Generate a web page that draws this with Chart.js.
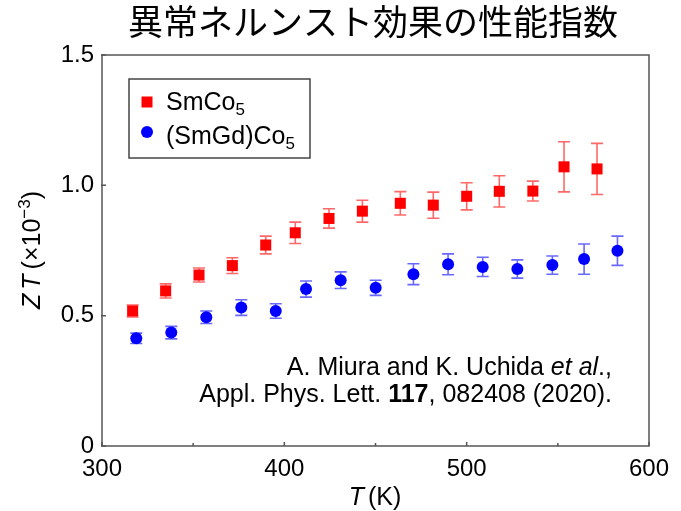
<!DOCTYPE html>
<html>
<head>
<meta charset="utf-8">
<script src="https://cdn.jsdelivr.net/npm/chart.js@4.4.0/dist/chart.umd.min.js"></script>
<style>
    html, body { margin: 0; padding: 0; background: #fff; }
    #wrap { width: 681px; height: 511px; }
</style>
</head>
<body>
<div id="wrap"><canvas id="chart" width="681" height="511"></canvas></div>
<script>
// SmCo5
const smcoTemp = [316.8, 334.9, 353.2, 371.5, 389.8, 406.0, 424.5, 442.8, 463.6, 481.7, 500.0, 517.9, 536.3, 553.4, 571.5];
const smcoZT   = [0.518, 0.595, 0.656, 0.692, 0.771, 0.818, 0.873, 0.901, 0.931, 0.924, 0.958, 0.977, 0.978, 1.071, 1.063];
const smcoErr  = [0.023, 0.027, 0.027, 0.030, 0.034, 0.041, 0.037, 0.042, 0.045, 0.050, 0.052, 0.060, 0.038, 0.096, 0.098];

// (SmGd)Co5
const smgdTemp = [318.8, 338.0, 357.2, 376.4, 395.3, 411.9, 430.9, 450.1, 470.8, 489.8, 508.8, 527.8, 547.0, 564.4, 582.7];
const smgdZT   = [0.413, 0.435, 0.494, 0.531, 0.518, 0.602, 0.636, 0.607, 0.659, 0.697, 0.687, 0.679, 0.694, 0.717, 0.749];
const smgdErr  = [0.020, 0.024, 0.024, 0.030, 0.028, 0.031, 0.032, 0.029, 0.040, 0.040, 0.037, 0.035, 0.035, 0.058, 0.056];

const xTicks = [300, 400, 500, 600];
const xMinorTicks = [350, 450, 550];
const yTicks = [0, 0.5, 1.0, 1.5];
const seriesNames = ['SmCo', '(SmGd)Co'];
const chartTitle = '異常ネルンスト効果の性能指数';

const SANS = '"Liberation Sans", Arial, sans-serif';
const AXIS_COLOR = '#555';

// draws a list of text runs one after another
function drawRuns(ctx, runs, x, y, align) {
    let total = 0;
    runs.forEach(r => { ctx.font = r.font; total += ctx.measureText(r.text).width + (r.gap || 0); });
    let cx = align === 'right' ? x - total : align === 'center' ? x - total / 2 : x;
    ctx.textAlign = 'left';
    ctx.textBaseline = 'alphabetic';
    runs.forEach(r => {
        ctx.font = r.font;
        ctx.fillText(r.text, cx, y + (r.dy || 0));
        cx += ctx.measureText(r.text).width + (r.gap || 0);
    });
}

const errorBars = {
    id: 'errorBars',
    beforeDatasetsDraw(chart) {
        const { ctx, scales: { x, y } } = chart;
        const sets = [
            { t: smcoTemp, v: smcoZT, e: smcoErr, color: 'rgba(255,40,40,0.7)' },
            { t: smgdTemp, v: smgdZT, e: smgdErr, color: 'rgba(40,40,255,0.7)' }
        ];
        ctx.save();
        ctx.lineWidth = 1.6;
        sets.forEach(s => {
            ctx.strokeStyle = s.color;
            s.t.forEach((t, i) => {
                const px = x.getPixelForValue(t);
                const top = y.getPixelForValue(s.v[i] + s.e[i]);
                const bot = y.getPixelForValue(s.v[i] - s.e[i]);
                ctx.beginPath();
                ctx.moveTo(px, top); ctx.lineTo(px, bot);
                ctx.moveTo(px - 6, top); ctx.lineTo(px + 6, top);
                ctx.moveTo(px - 6, bot); ctx.lineTo(px + 6, bot);
                ctx.stroke();
            });
        });
        ctx.restore();
    }
};

const decorations = {
    id: 'decorations',
    afterDraw(chart) {
        const { ctx, chartArea: a, scales: { x, y } } = chart;
        ctx.save();

        // frame + inward ticks
        ctx.strokeStyle = AXIS_COLOR;
        ctx.lineWidth = 1.5;
        ctx.strokeRect(a.left, a.top, a.right - a.left, a.bottom - a.top);
        ctx.beginPath();
        xTicks.concat(xMinorTicks).forEach(v => {
            const px = x.getPixelForValue(v);
            const len = xMinorTicks.includes(v) ? 3 : 4;
            ctx.moveTo(px, a.bottom); ctx.lineTo(px, a.bottom - len);
        });
        yTicks.forEach(v => {
            const py = y.getPixelForValue(v);
            ctx.moveTo(a.left - 1, py); ctx.lineTo(a.left + 4, py);
        });
        ctx.stroke();

        ctx.fillStyle = '#000';

        // title
        ctx.font = '35px "Noto Sans CJK JP", sans-serif';
        ctx.textAlign = 'center';
        ctx.textBaseline = 'middle';
        ctx.fillText(chartTitle, 373, 22);

        // x axis title
        drawRuns(ctx, [
            { text: 'T', font: 'italic 25px ' + SANS, gap: 4 },
            { text: '(K)', font: '25px ' + SANS }
        ], 375, 505, 'center');

        // y axis title (rotated)
        ctx.save();
        ctx.translate(40, 250);
        ctx.rotate(-Math.PI / 2);
        drawRuns(ctx, [
            { text: 'Z', font: 'italic 25px ' + SANS, gap: 4 },
            { text: 'T', font: 'italic 25px ' + SANS, gap: 5 },
            { text: '(×10', font: '25px ' + SANS },
            { text: '−3', font: '17px ' + SANS, dy: -10 },
            { text: ')', font: '25px ' + SANS }
        ], 0, 0, 'center');
        ctx.restore();

        // legend
        ctx.strokeStyle = '#444';
        ctx.lineWidth = 1.5;
        ctx.strokeRect(129, 79, 181, 79);
        ctx.fillStyle = '#ff0000';
        ctx.fillRect(147 - 5.5, 102 - 5.5, 11, 11);
        ctx.fillStyle = '#0000ff';
        ctx.beginPath();
        ctx.arc(147, 132, 6, 0, Math.PI * 2);
        ctx.fill();
        ctx.fillStyle = '#000';
        drawRuns(ctx, [
            { text: seriesNames[0], font: '25px ' + SANS },
            { text: '5', font: '17px ' + SANS, dy: 5 }
        ], 166, 110, 'left');
        drawRuns(ctx, [
            { text: seriesNames[1], font: '25px ' + SANS },
            { text: '5', font: '17px ' + SANS, dy: 5 }
        ], 166, 144, 'left');

        // citation
        drawRuns(ctx, [
            { text: 'A. Miura and K. Uchida ', font: '25px ' + SANS },
            { text: 'et al', font: 'italic 25px ' + SANS },
            { text: '.,', font: '25px ' + SANS }
        ], 612, 375, 'right');
        drawRuns(ctx, [
            { text: 'Appl. Phys. Lett. ', font: '25px ' + SANS },
            { text: '117', font: 'bold 25px ' + SANS },
            { text: ', 082408 (2020).', font: '25px ' + SANS }
        ], 612, 402, 'right');

        ctx.restore();
    }
};

const ctx = document.getElementById('chart').getContext('2d');
new Chart(ctx, {
    type: 'scatter',
    data: {
        datasets: [
            {
                label: seriesNames[0] + '5',
                data: smcoTemp.map((t, i) => ({ x: t, y: smcoZT[i] })),
                pointStyle: 'rect',
                pointRadius: 7.8,
                backgroundColor: '#ff0000',
                borderWidth: 0
            },
            {
                label: seriesNames[1] + '5',
                data: smgdTemp.map((t, i) => ({ x: t, y: smgdZT[i] })),
                pointStyle: 'circle',
                pointRadius: 6,
                backgroundColor: '#0000ff',
                borderWidth: 0
            }
        ]
    },
    options: {
        responsive: false,
        animation: false,
        devicePixelRatio: 1,
        layout: { padding: { top: 55, right: 32, left: 0, bottom: 0 } },
        plugins: {
            legend: { display: false },
            tooltip: { enabled: false }
        },
        scales: {
            x: {
                type: 'linear',
                min: 300,
                max: 600,
                afterBuildTicks: s => { s.ticks = xTicks.map(v => ({ value: v })); },
                afterFit: s => { s.height = 65; },
                grid: { display: false, drawTicks: false },
                border: { display: false },
                ticks: { padding: 9, color: '#000', font: { family: SANS, size: 24 } }
            },
            y: {
                type: 'linear',
                min: 0,
                max: 1.5,
                afterBuildTicks: s => { s.ticks = yTicks.map(v => ({ value: v })); },
                afterFit: s => { s.width = 102; },
                grid: { display: false, drawTicks: false },
                border: { display: false },
                ticks: {
                    padding: 8,
                    color: '#000',
                    font: { family: SANS, size: 24 },
                    callback: v => v === 0 ? '0' : v.toFixed(1)
                }
            }
        }
    },
    plugins: [errorBars, decorations]
});
</script>
</body>
</html>
